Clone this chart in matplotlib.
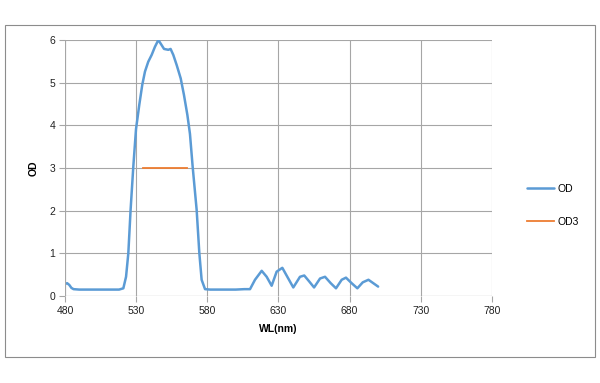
import matplotlib.pyplot as plt
from matplotlib.patches import Rectangle

plt.rcParams['font.family'] = ['Liberation Sans', 'DejaVu Sans']

# curva OD
wl = [480, 481.5, 483, 484.5, 486, 490, 500, 510, 518, 521, 522.9, 524.5,
      526.1, 528, 529.9, 532.2, 534.3, 536.2, 538.5, 540.9, 543.2, 545.6,
      547.9, 549.6, 552.6, 554.2, 556.1, 558.5, 561.3, 563.6, 566, 567.8,
      569.7, 572.5, 574.4, 576, 578.4, 582, 590, 600, 606, 610,
      613.5, 618.2, 621.7, 625.2, 628.7, 632.7, 636.2, 640.4, 645.1, 648.1,
      651.6, 655, 659.2, 662.7, 666.7, 670.4, 674.4, 677.4, 681.4, 685.4,
      689.2, 693.2, 696.6, 700]
od = [0.28, 0.30, 0.26, 0.19, 0.16, 0.15, 0.15, 0.15, 0.15, 0.18, 0.45, 1.00,
      2.02, 3.03, 3.91, 4.48, 4.95, 5.26, 5.49, 5.65, 5.84, 6.00,
      5.88, 5.79, 5.77, 5.79, 5.65, 5.41, 5.10, 4.71, 4.24, 3.80,
      3.03, 2.02, 1.00, 0.38, 0.16, 0.15, 0.15, 0.15, 0.16, 0.16,
      0.38, 0.59, 0.45, 0.24, 0.57, 0.66, 0.45, 0.20, 0.45, 0.48,
      0.34, 0.20, 0.41, 0.45, 0.30, 0.18, 0.38, 0.43, 0.30, 0.18,
      0.32, 0.38, 0.30, 0.22]

# linea OD3
wl3 = [534.6, 565.5]
od3 = [3, 3]

xticks = [480, 530, 580, 630, 680, 730, 780]
yticks = [0, 1, 2, 3, 4, 5, 6]

fig = plt.figure(figsize=(6, 3.83), dpi=100)
fig.patches.append(Rectangle((0.009, 0.068), 0.982, 0.867, transform=fig.transFigure,
                             fill=False, edgecolor='#8c8c8c', linewidth=0.8))
ax = fig.add_axes([0.1083, 0.2272, 0.7117, 0.6684])

ax.plot(wl, od, color='#5B9BD5', linewidth=1.8, label='OD',
        solid_joinstyle='round', solid_capstyle='round')
ax.plot(wl3, od3, color='#ED7D31', linewidth=1.3, label='OD3')

ax.set_xlim(480, 780)
ax.set_ylim(0, 6)
ax.set_xticks(xticks)
ax.set_yticks(yticks)
ax.grid(True, color='#a6a6a6', linewidth=0.8)
for s in ax.spines.values():
    s.set_visible(False)
ax.axhline(0, color='#a6a6a6', linewidth=0.8)
ax.axvline(480, color='#a6a6a6', linewidth=0.8)
ax.tick_params(axis='both', length=4, color='#a6a6a6', labelsize=7.5, pad=3,
               labelcolor='#222222')
ax.set_xlabel('WL(nm)', fontsize=7.5, fontweight='bold', labelpad=6)
ax.set_ylabel('OD', fontsize=7.5, fontweight='bold', labelpad=8)

ax.legend(loc='center left', bbox_to_anchor=(1.06, 0.355), frameon=False,
          fontsize=7.5, handlelength=2.6, handletextpad=0.3, labelspacing=2.2)

fig.savefig('out.png', dpi=100)
